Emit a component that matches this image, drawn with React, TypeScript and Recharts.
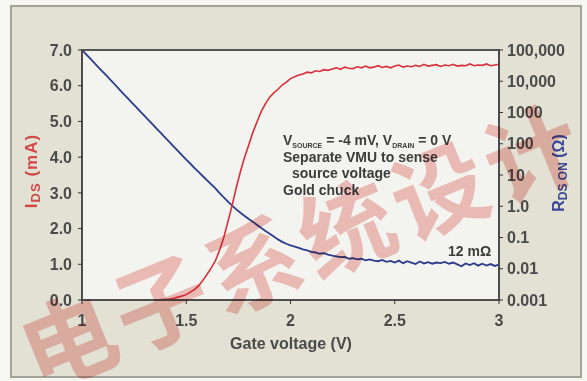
import React from 'react';
import { LineChart, Line, XAxis, YAxis, ReferenceArea } from 'recharts';

const gateVoltage = [
  1.0, 1.02, 1.04, 1.06, 1.08, 1.1, 1.12, 1.14, 1.16, 1.18,
  1.2, 1.22, 1.24, 1.26, 1.28, 1.3, 1.32, 1.34, 1.36, 1.38,
  1.4, 1.42, 1.44, 1.46, 1.48, 1.5, 1.52, 1.54, 1.56, 1.58,
  1.6, 1.62, 1.64, 1.66, 1.68, 1.7, 1.72, 1.74, 1.76, 1.78,
  1.8, 1.82, 1.84, 1.86, 1.88, 1.9, 1.92, 1.94, 1.96, 1.98,
  2.0, 2.02, 2.04, 2.06, 2.08, 2.1, 2.12, 2.14, 2.16, 2.18,
  2.2, 2.22, 2.24, 2.26, 2.28, 2.3, 2.32, 2.34, 2.36, 2.38,
  2.4, 2.42, 2.44, 2.46, 2.48, 2.5, 2.52, 2.54, 2.56, 2.58,
  2.6, 2.62, 2.64, 2.66, 2.68, 2.7, 2.72, 2.74, 2.76, 2.78,
  2.8, 2.82, 2.84, 2.86, 2.88, 2.9, 2.92, 2.94, 2.96, 2.98,
  3.0,
];

// I_DS (mA), left axis
const idsMilliamp = [
  0, 0, 0, 0, 0, 0, 0, 0, 0, 0,
  0, 0, 0, 0, 0, 0, 0, 0, 0, 0.01,
  0.02, 0.03, 0.05, 0.08, 0.11, 0.15, 0.22, 0.3, 0.4, 0.55,
  0.72, 0.9, 1.1, 1.4, 1.75, 2.2, 2.65, 3.15, 3.6, 4.0,
  4.35, 4.7, 5.0, 5.28, 5.5, 5.68, 5.8, 5.9, 6.02, 6.1,
  6.2, 6.25, 6.3, 6.33, 6.38, 6.36, 6.42, 6.4, 6.45, 6.43,
  6.47, 6.5, 6.46, 6.52, 6.49, 6.48, 6.53, 6.5, 6.55, 6.5,
  6.52, 6.56, 6.51, 6.54, 6.5, 6.55, 6.58, 6.52, 6.55, 6.53,
  6.57, 6.54, 6.6, 6.55, 6.57, 6.59, 6.54, 6.58, 6.56, 6.6,
  6.55, 6.57, 6.56, 6.61, 6.56, 6.58, 6.57, 6.61, 6.56, 6.58,
  6.6,
];

// R_DS ON (ohm), right log axis
const rdsOhm = [
  100000, 72400, 52500, 38000, 27500, 20000, 14500, 10500, 7590, 5370,
  3890, 2820, 2040, 1480, 1070, 776, 562, 407, 295, 214,
  155, 112, 81.3, 58.9, 42.7, 30.9, 22.9, 16.6, 12.3, 9.12,
  6.76, 5.01, 3.72, 2.63, 1.91, 1.41, 1.05, 0.794, 0.617, 0.49,
  0.389, 0.316, 0.251, 0.2, 0.162, 0.132, 0.107, 0.0871, 0.0724, 0.0631,
  0.0562, 0.0513, 0.0468, 0.0417, 0.0389, 0.0347, 0.0331, 0.0302, 0.0316, 0.0282,
  0.0263, 0.0251, 0.0234, 0.024, 0.0209, 0.0219, 0.02, 0.0209, 0.0186, 0.02,
  0.0182, 0.0174, 0.0191, 0.0166, 0.0178, 0.0158, 0.0182, 0.0151, 0.0174, 0.0158,
  0.0141, 0.017, 0.0148, 0.0162, 0.0145, 0.0158, 0.0151, 0.0166, 0.0145, 0.0158,
  0.0138, 0.012, 0.0148, 0.0132, 0.0151, 0.0126, 0.0145, 0.0126, 0.0141, 0.0123,
  0.0135,
];

const xTicks = [1, 1.5, 2, 2.5, 3];
const xTickLabels = ['1', '1.5', '2', '2.5', '3'];
const leftTicks = [0, 1, 2, 3, 4, 5, 6, 7];
const leftTickLabels = ['0.0', '1.0', '2.0', '3.0', '4.0', '5.0', '6.0', '7.0'];
const rightTicks = [0.001, 0.01, 0.1, 1, 10, 100, 1000, 10000, 100000];
const rightTickLabels = ['0.001', '0.01', '0.1', '1.0', '10', '100', '1000', '10,000', '100,000'];

const data = gateVoltage.map((v, i) => ({ v, ids: idsMilliamp[i], rds: rdsOhm[i] }));

const FONT = '"Liberation Sans Narrow", "Liberation Sans", Arial, sans-serif';
const tickStyle = { fill: '#4a4a4a', fontSize: 16, fontFamily: FONT, fontWeight: 'bold' as const };

export default function App() {
  return (
    <div style={{ position: 'absolute', left: 0, top: 0, width: 587, height: 381, background: '#f6f6f2', overflow: 'hidden' }}>
      <div
        style={{
          position: 'absolute', left: 10, top: 5, width: 572, height: 373,
          boxSizing: 'border-box', border: '2px solid #a3a398', background: '#e2e1d4',
        }}
      />
      <div style={{ position: 'absolute', left: 0, top: 0 }}>
        <LineChart width={587} height={381} data={data} margin={{ top: 50, right: 18, left: 22, bottom: 41 }}>
          <XAxis
            dataKey="v" type="number" domain={[1, 3]} ticks={xTicks} allowDataOverflow
            tickFormatter={(t: number) => xTickLabels[xTicks.indexOf(t)] ?? String(t)}
            axisLine={{ stroke: '#4d4d4d', strokeWidth: 2 }} tickLine={{ stroke: '#333' }}
            tickSize={4} tickMargin={11} height={40} tick={tickStyle}
          />
          <YAxis
            yAxisId="left" domain={[0, 7]} ticks={leftTicks} width={60} allowDataOverflow
            tickFormatter={(t: number) => leftTickLabels[leftTicks.indexOf(t)] ?? String(t)}
            axisLine={{ stroke: '#4d4d4d', strokeWidth: 2 }} tickLine={{ stroke: '#333' }}
            tickSize={4} tickMargin={6} tick={tickStyle}
          />
          <YAxis
            yAxisId="right" orientation="right" scale="log" domain={[0.001, 100000]} ticks={rightTicks}
            width={70} allowDataOverflow
            tickFormatter={(t: number) => {
              const idx = rightTicks.findIndex((r) => Math.abs(r - t) / r < 1e-6);
              return idx >= 0 ? rightTickLabels[idx] : String(t);
            }}
            axisLine={{ stroke: '#4d4d4d', strokeWidth: 2 }} tickLine={{ stroke: '#333' }}
            tickSize={4} tickMargin={4} tick={{ ...tickStyle, textAnchor: 'start' }}
          />
          <ReferenceArea
            yAxisId="left" x1={1} x2={3} y1={0} y2={7}
            fill="#f3f3ef" fillOpacity={1} stroke="#555" strokeWidth={2} ifOverflow="visible"
          />
          <Line yAxisId="right" dataKey="rds" stroke="#2c3c8c" strokeWidth={1.8} dot={false} isAnimationActive={false} />
          <Line yAxisId="left" dataKey="ids" stroke="#d8303a" strokeWidth={1.6} dot={false} isAnimationActive={false} />
        </LineChart>
      </div>
      <svg width={587} height={381} style={{ position: 'absolute', left: 0, top: 0, pointerEvents: 'none' }}>
        <g fontFamily={FONT} fontWeight="bold">
          <text x={33} y={171} transform="rotate(-90 33 171)" textAnchor="middle" fill="#d04848" fontSize={17} letterSpacing={1} dominantBaseline="middle">
            I<tspan fontSize={13} dy={4}>DS</tspan><tspan dy={-4}> (mA)</tspan>
          </text>
          <text x={560} y={173} transform="rotate(-90 560 173)" textAnchor="middle" fill="#3a4896" fontSize={16} dominantBaseline="middle">
            R<tspan fontSize={12} dy={4}>DS ON</tspan><tspan dy={-4}> (Ω)</tspan>
          </text>
          <text x={291} y={349} textAnchor="middle" fill="#4a4a4a" fontSize={16}>Gate voltage (V)</text>
          <g fill="#3c3c3c" fontSize={14}>
            <text x={283} y={145}>
              V<tspan fontSize={7} dy={3}>SOURCE</tspan><tspan dy={-3}> = -4 mV, V</tspan><tspan fontSize={7} dy={3}>DRAIN</tspan><tspan dy={-3}> = 0 V</tspan>
            </text>
            <text x={283} y={162}>Separate VMU to sense</text>
            <text x={292} y={178}>source voltage</text>
            <text x={283} y={195}>Gold chuck</text>
            <text x={448} y={256}>12 mΩ</text>
          </g>
        </g>
      </svg>
      <svg width={587} height={381} style={{ position: 'absolute', left: 0, top: 0, pointerEvents: 'none', mixBlendMode: 'multiply' }}>
        <text
          x={38} y={391} transform="rotate(-22 38 391)" fill="#f5c2c0" fontSize={94} fontWeight="bold" letterSpacing={6}
          fontFamily='"Noto Sans CJK SC", sans-serif'
        >
          电子系统设计
        </text>
      </svg>
    </div>
  );
}
